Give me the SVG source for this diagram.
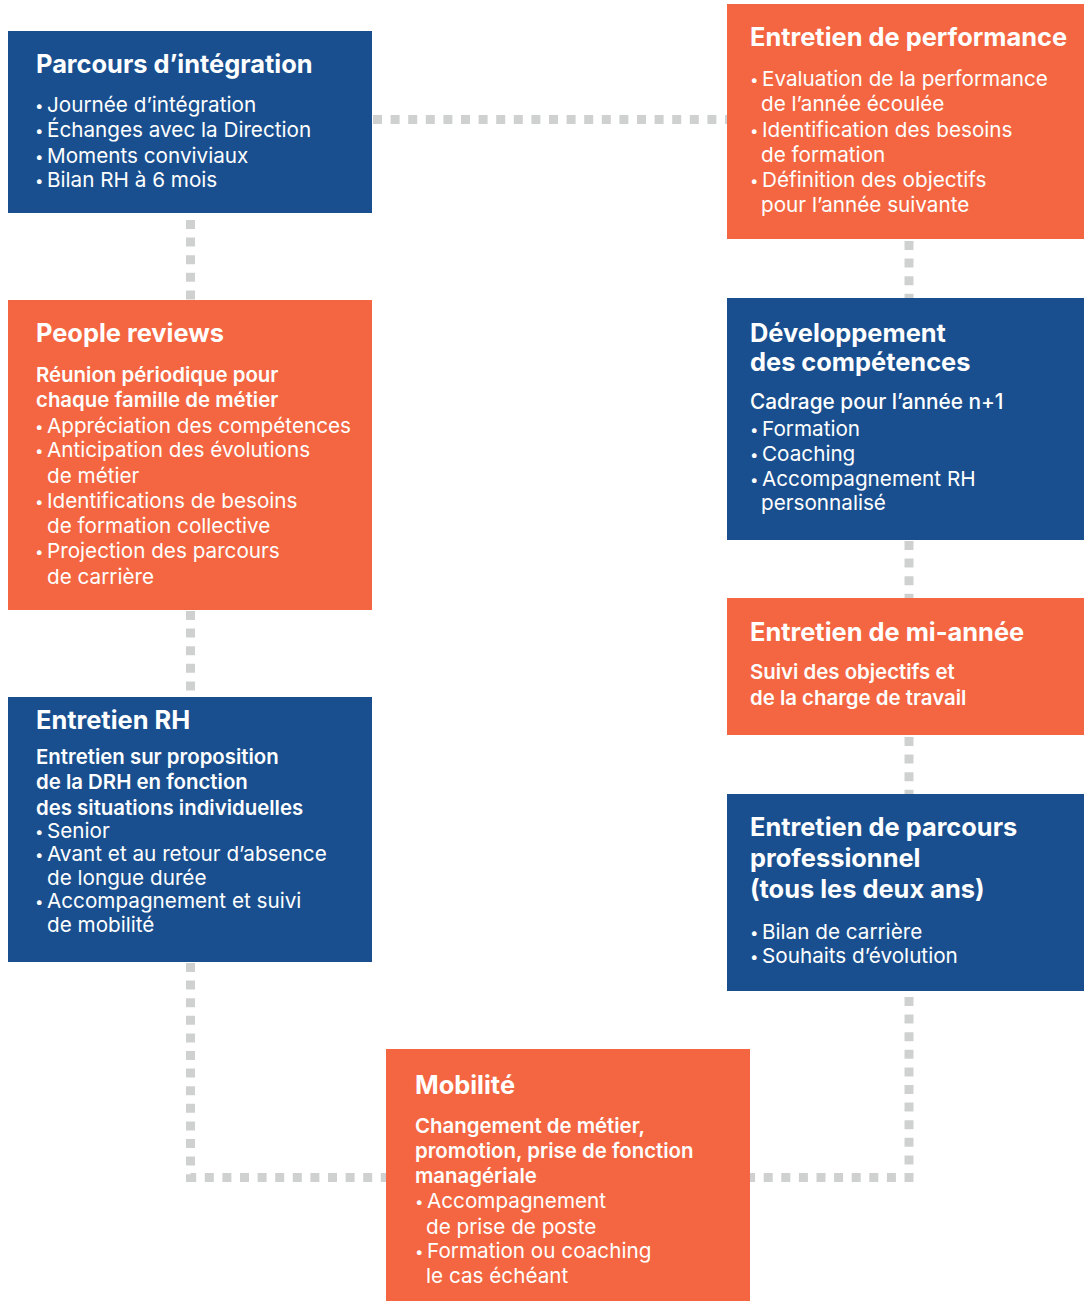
<svg xmlns="http://www.w3.org/2000/svg" width="1084" height="1301" viewBox="0 0 1084 1301">
<style>
.blue{fill:#194f8f}.orange{fill:#f36641}
text{font-family:Inter,"Noto Sans","Liberation Sans",sans-serif;fill:#fff}
.t{font-size:25.4px;font-weight:700}
.s{font-size:20.4px;font-weight:600}
.m{font-size:20.8px;font-weight:500}
.b{font-size:20.7px;font-weight:400}
.d{font-size:15px;baseline-shift:1.5px}
.c{fill:none;stroke:#cfd1d1;stroke-width:9;stroke-dasharray:9 8.6}
</style>
<rect width="1084" height="1301" fill="#fff"/>
<g id="connectors">
<path class="c" d="M373 119.5H727"/>
<path class="c" d="M190.5 220V300"/>
<path class="c" d="M190.5 611V697"/>
<path class="c" d="M190.5 963V1177.5H386"/>
<path class="c" d="M909 241V298"/>
<path class="c" d="M909 541V598"/>
<path class="c" d="M909 737V794"/>
<path class="c" d="M909 997V1177.5H750"/>
</g>
<g id="parcours-integration">
<rect class="blue" x="8" y="31" width="364" height="182"/>
<text class="t" x="36" y="73">Parcours d’intégration</text>
<text class="b" y="112"><tspan class="d" x="35">•</tspan><tspan x="47">Journée d’intégration</tspan></text>
<text class="b" y="137"><tspan class="d" x="35">•</tspan><tspan x="47">Échanges avec la Direction</tspan></text>
<text class="b" y="163"><tspan class="d" x="35">•</tspan><tspan x="47">Moments conviviaux</tspan></text>
<text class="b" y="187"><tspan class="d" x="35">•</tspan><tspan x="47">Bilan RH à 6 mois</tspan></text>
</g>
<g id="people-reviews">
<rect class="orange" x="8" y="300" width="364" height="310"/>
<text class="t" x="36" y="342">People reviews</text>
<text class="s" x="36" y="382">Réunion périodique pour</text>
<text class="s" x="36" y="407">chaque famille de métier</text>
<text class="b" y="433"><tspan class="d" x="35">•</tspan><tspan x="47">Appréciation des compétences</tspan></text>
<text class="b" y="457"><tspan class="d" x="35">•</tspan><tspan x="47">Anticipation des évolutions</tspan></text>
<text class="b" x="47" y="483">de métier</text>
<text class="b" y="508"><tspan class="d" x="35">•</tspan><tspan x="47">Identifications de besoins</tspan></text>
<text class="b" x="47" y="533">de formation collective</text>
<text class="b" y="558"><tspan class="d" x="35">•</tspan><tspan x="47">Projection des parcours</tspan></text>
<text class="b" x="47" y="584">de carrière</text>
</g>
<g id="entretien-rh">
<rect class="blue" x="8" y="697" width="364" height="265"/>
<text class="t" x="36" y="729">Entretien RH</text>
<text class="s" x="36" y="764">Entretien sur proposition</text>
<text class="s" x="36" y="789">de la DRH en fonction</text>
<text class="s" x="36" y="815">des situations individuelles</text>
<text class="b" y="838"><tspan class="d" x="35">•</tspan><tspan x="47">Senior</tspan></text>
<text class="b" y="861"><tspan class="d" x="35">•</tspan><tspan x="47">Avant et au retour d’absence</tspan></text>
<text class="b" x="47" y="885">de longue durée</text>
<text class="b" y="908"><tspan class="d" x="35">•</tspan><tspan x="47">Accompagnement et suivi</tspan></text>
<text class="b" x="47" y="932">de mobilité</text>
</g>
<g id="entretien-performance">
<rect class="orange" x="727" y="4" width="357" height="235"/>
<text class="t" x="750" y="46">Entretien de performance</text>
<text class="b" y="86"><tspan class="d" x="750">•</tspan><tspan x="762">Evaluation de la performance</tspan></text>
<text class="b" x="761" y="111">de l’année écoulée</text>
<text class="b" y="137"><tspan class="d" x="750">•</tspan><tspan x="762">Identification des besoins</tspan></text>
<text class="b" x="761" y="162">de formation</text>
<text class="b" y="187"><tspan class="d" x="750">•</tspan><tspan x="762">Définition des objectifs</tspan></text>
<text class="b" x="761" y="212">pour l’année suivante</text>
</g>
<g id="developpement-competences">
<rect class="blue" x="727" y="298" width="357" height="242"/>
<text class="t" x="750" y="342">Développement</text>
<text class="t" x="750" y="371">des compétences</text>
<text class="m" x="750" y="409">Cadrage pour l’année n+1</text>
<text class="b" y="436"><tspan class="d" x="750">•</tspan><tspan x="762">Formation</tspan></text>
<text class="b" y="461"><tspan class="d" x="750">•</tspan><tspan x="762">Coaching</tspan></text>
<text class="b" y="486"><tspan class="d" x="750">•</tspan><tspan x="762">Accompagnement RH</tspan></text>
<text class="b" x="761" y="510">personnalisé</text>
</g>
<g id="entretien-mi-annee">
<rect class="orange" x="727" y="598" width="357" height="137"/>
<text class="t" x="750" y="641">Entretien de mi-année</text>
<text class="s" x="750" y="679">Suivi des objectifs et</text>
<text class="s" x="750" y="705">de la charge de travail</text>
</g>
<g id="entretien-parcours-professionnel">
<rect class="blue" x="727" y="794" width="357" height="197"/>
<text class="t" x="750" y="836">Entretien de parcours</text>
<text class="t" x="750" y="867">professionnel</text>
<text class="t" x="750" y="898">(tous les deux ans)</text>
<text class="b" y="939"><tspan class="d" x="750">•</tspan><tspan x="762">Bilan de carrière</tspan></text>
<text class="b" y="963"><tspan class="d" x="750">•</tspan><tspan x="762">Souhaits d’évolution</tspan></text>
</g>
<g id="mobilite">
<rect class="orange" x="386" y="1049" width="364" height="252"/>
<text class="t" x="415" y="1094">Mobilité</text>
<text class="s" x="415" y="1133">Changement de métier,</text>
<text class="s" x="415" y="1158">promotion, prise de fonction</text>
<text class="s" x="415" y="1183">managériale</text>
<text class="b" y="1208"><tspan class="d" x="415">•</tspan><tspan x="427">Accompagnement</tspan></text>
<text class="b" x="426" y="1234">de prise de poste</text>
<text class="b" y="1258"><tspan class="d" x="415">•</tspan><tspan x="427">Formation ou coaching</tspan></text>
<text class="b" x="426" y="1283">le cas échéant</text>
</g>
</svg>
